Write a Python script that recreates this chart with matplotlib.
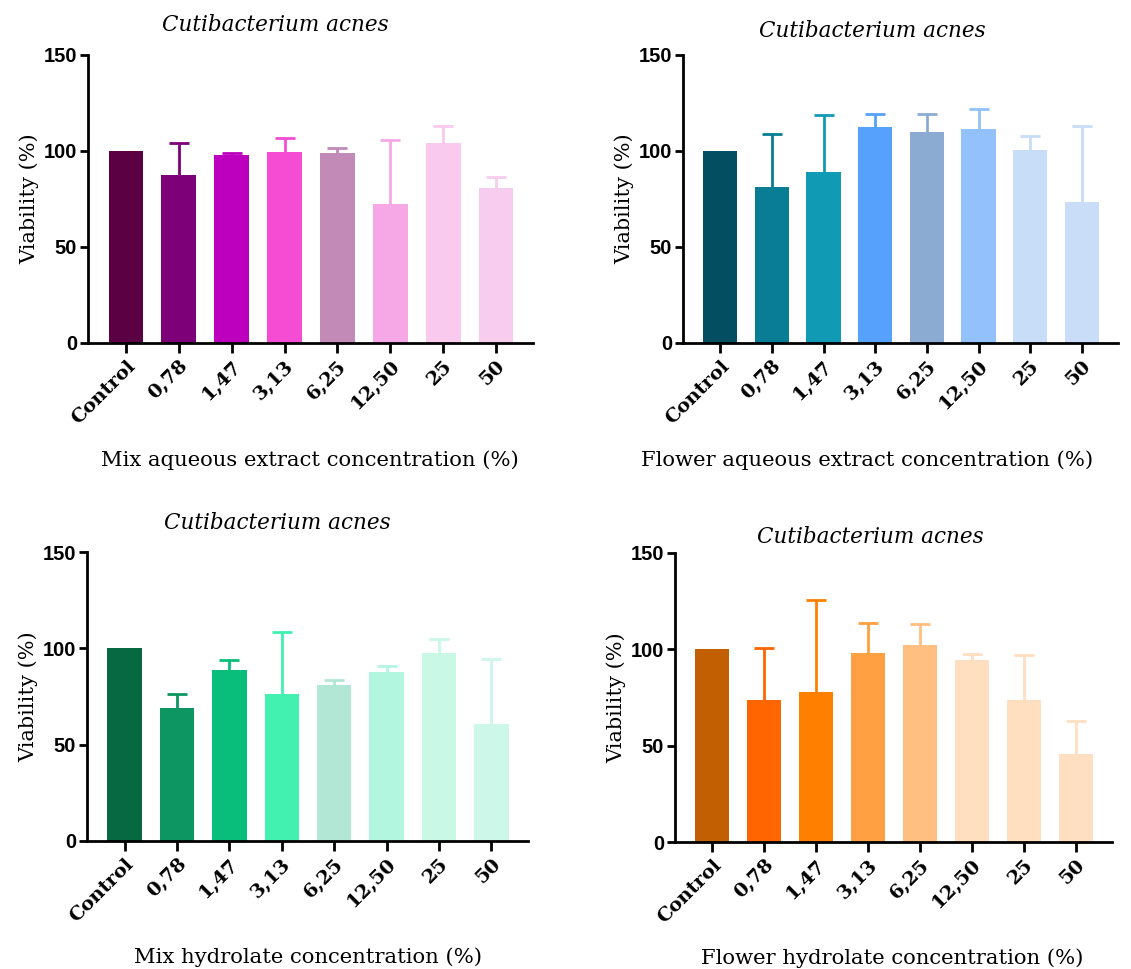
import numpy as np
import matplotlib
matplotlib.use("Agg")
import matplotlib.pyplot as plt

# data
categories = ["Control", "0,78", "1,47", "3,13", "6,25", "12,50", "25", "50"]

mix_aq = [100, 87.5, 98, 99.5, 98.8, 72.5, 104, 80.5]
mix_aq_err = [0, 16.5, 1, 7.5, 3, 33, 9, 6]
mix_aq_colors = ["#5c0044", "#7d0079", "#bc00bd", "#f64bd3", "#c18ab7",
                 "#f5a8e5", "#f9c9ee", "#f8ccee"]

flower_aq = [100, 81.5, 89, 112.3, 110, 111.5, 100.5, 73.5]
flower_aq_err = [0, 27.5, 30, 6.8, 9.5, 10.5, 7.3, 39.3]
flower_aq_colors = ["#044e61", "#087d94", "#119ab3", "#55a1fb", "#8cabd3",
                    "#92c1fb", "#c8ddf7", "#c9ddf8"]

mix_hyd = [100, 69, 89, 76.5, 81, 87.7, 97.5, 60.5]
mix_hyd_err = [0, 7.5, 4.8, 32, 2.5, 3.3, 7.3, 34]
mix_hyd_colors = ["#076941", "#0d9562", "#09bd7a", "#42f0b0", "#b2e7d6",
                  "#b3f6df", "#c9f8e7", "#ccf7e9"]

flower_hyd = [100, 73.5, 78, 98.3, 102, 94.5, 73.5, 45.5]
flower_hyd_err = [0, 27, 47.5, 15.5, 11, 3.3, 23.7, 17.5]
flower_hyd_colors = ["#c15f02", "#ff6501", "#ff8001", "#ffa142", "#ffbf80",
                     "#ffdfc0", "#ffdfc0", "#ffdfc1"]

W, H = 1131, 969
fig = plt.figure(figsize=(W / 100, H / 100), dpi=100)

serif = "DejaVu Serif"

panels = [
    # left, right, top, bottom (px), values, errors, colours, xlabel,
    # title x, xlabel x, title y, xlabel y
    (88, 533, 55, 343, mix_aq, mix_aq_err, mix_aq_colors,
     "Mix aqueous extract concentration (%)", 275, 310, 25, 460),
    (683, 1118, 55, 343, flower_aq, flower_aq_err, flower_aq_colors,
     "Flower aqueous extract concentration (%)", 872, 867, 31, 460),
    (87, 528, 552, 841, mix_hyd, mix_hyd_err, mix_hyd_colors,
     "Mix hydrolate concentration (%)", 277, 308, 523, 957),
    (675, 1112, 553, 842, flower_hyd, flower_hyd_err, flower_hyd_colors,
     "Flower hydrolate concentration (%)", 870, 892, 537, 958),
]

x = np.arange(len(categories))

for (l, r, t, b, vals, errs, cols, xlabel, tx, lx, ty, ly) in panels:
    ax = fig.add_axes([l / W, 1 - b / H, (r - l) / W, (b - t) / H])
    for xi, v, e, c in zip(x, vals, errs, cols):
        ax.bar(xi, v, width=0.66, color=c, zorder=2)
        if e > 0:
            eb = ax.errorbar(xi, v, yerr=[[0], [e]], color=c, elinewidth=2,
                             capsize=7, capthick=2, zorder=1)
            eb[1][0].set_visible(False)  # no lower cap
    ax.set_xlim(-0.72, 7.7)
    ax.set_ylim(0, 150)
    ax.set_yticks([0, 50, 100, 150])
    ax.spines["top"].set_visible(False)
    ax.spines["right"].set_visible(False)
    for s in ["left", "bottom"]:
        ax.spines[s].set_linewidth(2)
    ax.tick_params(axis="y", direction="out", length=6, width=2, pad=2)
    ax.tick_params(axis="x", direction="out", length=7, width=2, pad=3)
    ax.set_xticks(x)
    ax.set_xticklabels(categories, rotation=45, ha="right",
                       rotation_mode="anchor", family=serif,
                       fontweight="bold", fontsize=14)
    for lab in ax.get_yticklabels():
        lab.set_family("Liberation Sans")
        lab.set_fontweight("bold")
        lab.set_fontsize(14.5)
    ax.set_ylabel("Viability (%)", family=serif, fontsize=15, labelpad=3)
    fig.text(tx / W, 1 - ty / H, "Cutibacterium acnes", family=serif,
             style="italic", fontsize=15.5, ha="center", va="center")
    fig.text(lx / W, 1 - ly / H, xlabel, family=serif, fontsize=15.2,
             ha="center", va="center")

fig.savefig("out.png", dpi=100)
